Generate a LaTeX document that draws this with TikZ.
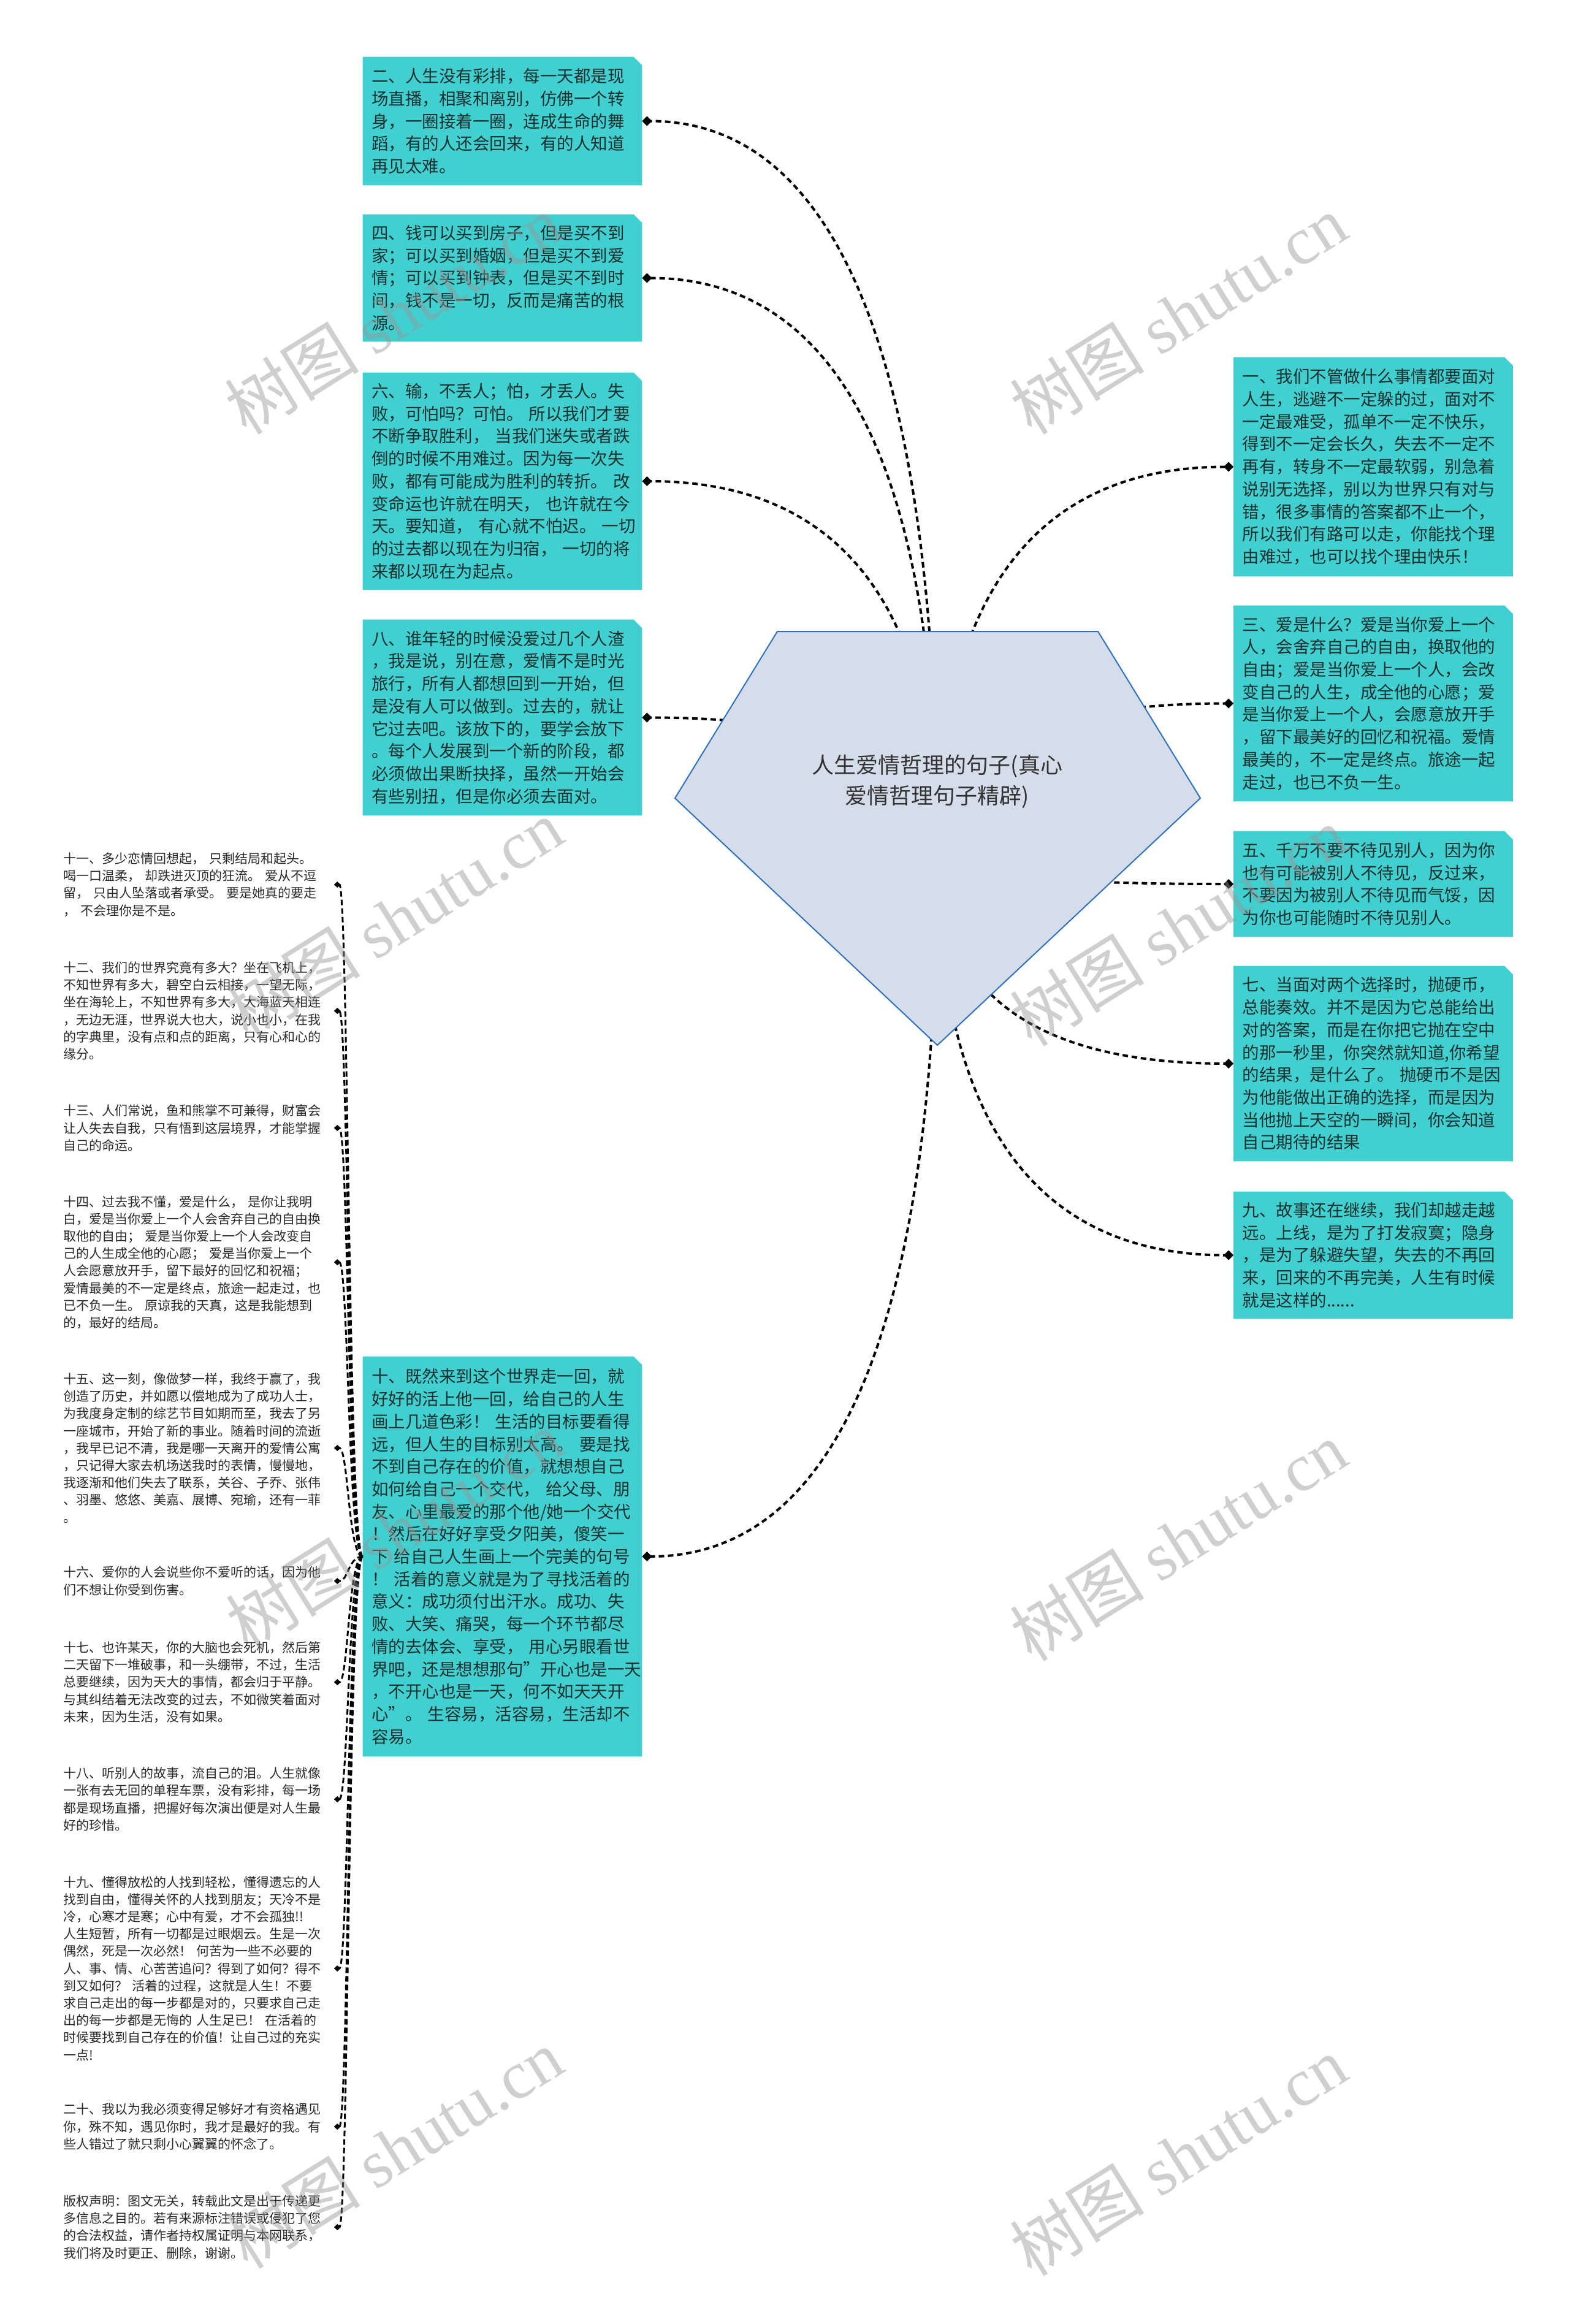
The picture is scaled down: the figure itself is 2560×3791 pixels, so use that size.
\documentclass[tikz,border=0pt]{standalone}
\usepackage{fontspec}
\setmainfont{Noto Sans CJK SC}
\newfontfamily\wmlatin{Liberation Serif}
\usetikzlibrary{calc,arrows.meta,backgrounds}
\definecolor{boxfill}{RGB}{66,207,208}
\definecolor{boxtext}{RGB}{28,48,48}
\definecolor{leaftext}{RGB}{40,40,40}
\definecolor{rootfill}{RGB}{212,221,233}
\definecolor{rootline}{RGB}{46,112,190}
\definecolor{wmgray}{RGB}{150,150,150}
\tikzset{
  tbox/.style={rectangle, inner xsep=7pt, inner ysep=0pt, minimum width=227.5pt,
    text width=213.5pt, align=left, text=boxtext,
    font=\fontsize{13.75pt}{18.35pt}\selectfont},
  leaf/.style={rectangle, inner sep=0pt, text width=220.5pt, align=left, anchor=west,
    text=leaftext, font=\fontsize{10.5pt}{14.1pt}\selectfont},
  conn/.style={line width=2pt, dash pattern=on 4.5pt off 3pt,
    -{Diamond[length=8pt,width=8pt]}},
  subconn/.style={line width=1.5pt, dash pattern=on 4.5pt off 2.5pt,
    -{Diamond[length=5.5pt,width=5pt]}},
  wm/.style={text=wmgray, opacity=0.45, font=\fontsize{55pt}{60pt}\selectfont, rotate=32},
  roottext/.style={text=black!80, align=center, font=\fontsize{18pt}{25pt}\selectfont}
}
\begin{document}
\begin{tikzpicture}[x=0.5pt,y=-0.5pt]
\useasboundingbox (0,0) rectangle (2560,3791);

% ---------- left boxes ----------
\node[tbox, minimum height=104.5pt] (b2) at (819.5,197.5) {二、人生没有彩排，每一天都是现\\场直播，相聚和离别，仿佛一个转\\身，一圈接着一圈，连成生命的舞\\蹈，有的人还会回来，有的人知道\\再见太难。};
\node[tbox, minimum height=103.5pt] (b4) at (819.5,453.5) {四、钱可以买到房子，但是买不到\\家；可以买到婚姻，但是买不到爱\\情；可以买到钟表，但是买不到时\\间，钱不是一切，反而是痛苦的根\\源。};
\node[tbox, minimum height=177pt] (b6) at (819.5,785) {六、输，不丢人；怕，才丢人。失\\败，可怕吗？可怕。~所以我们才要\\不断争取胜利，~当我们迷失或者跌\\倒的时候不用难过。因为每一次失\\败，都有可能成为胜利的转折。~改\\变命运也许就在明天，~也许就在今\\天。要知道，~有心就不怕迟。~一切\\的过去都以现在为归宿，~一切的将\\来都以现在为起点。};
\node[tbox, minimum height=159.5pt] (b8) at (819.5,1170.5) {八、谁年轻的时候没爱过几个人渣\\，我是说，别在意，爱情不是时光\\旅行，所有人都想回到一开始，但\\是没有人可以做到。过去的，就让\\它过去吧。该放下的，要学会放下\\。每个人发展到一个新的阶段，都\\必须做出果断抉择，虽然一开始会\\有些别扭，但是你必须去面对。};
\node[tbox, minimum height=326pt] (b10) at (819.5,2539) {十、既然来到这个世界走一回，就\\好好的活上他一回，给自己的人生\\画上几道色彩！~生活的目标要看得\\远，但人生的目标别太高。~要是找\\不到自己存在的价值，就想想自己\\如何给自己一个交代，~给父母、朋\\友、心里最爱的那个他/她一个交代\\！然后在好好享受夕阳美，傻笑一\\下~给自己人生画上一个完美的句号\\！~活着的意义就是为了寻找活着的\\意义：成功须付出汗水。成功、失\\败、大笑、痛哭，每一个环节都尽\\情的去体会、享受，~用心另眼看世\\界吧，还是想想那句"开心也是一天\\，不开心也是一天，何不如天天开\\心"。~生容易，活容易，生活却不\\容易。};

% ---------- right boxes ----------
\node[tbox, minimum height=178.5pt] (b1) at (2240,761.5) {一、我们不管做什么事情都要面对\\人生，逃避不一定躲的过，面对不\\一定最难受，孤单不一定不快乐，\\得到不一定会长久，失去不一定不\\再有，转身不一定最软弱，别急着\\说别无选择，别以为世界只有对与\\错，很多事情的答案都不止一个，\\所以我们有路可以走，你能找个理\\由难过，也可以找个理由快乐！};
\node[tbox, minimum height=159.5pt] (b3) at (2240,1147.5) {三、爱是什么？爱是当你爱上一个\\人，会舍弃自己的自由，换取他的\\自由；爱是当你爱上一个人，会改\\变自己的人生，成全他的心愿；爱\\是当你爱上一个人，会愿意放开手\\，留下最美好的回忆和祝福。爱情\\最美的，不一定是终点。旅途一起\\走过，也已不负一生。};
\node[tbox, minimum height=86pt] (b5) at (2240,1442) {五、千万不要不待见别人，因为你\\也有可能被别人不待见，反过来，\\不要因为被别人不待见而气馁，因\\为你也可能随时不待见别人。};
\node[tbox, minimum height=159pt] (b7) at (2240,1735) {七、当面对两个选择时，抛硬币，\\总能奏效。并不是因为它总能给出\\对的答案，而是在你把它抛在空中\\的那一秒里，你突然就知道,你希望\\的结果，是什么了。~抛硬币不是因\\为他能做出正确的选择，而是因为\\当他抛上天空的一瞬间，你会知道\\自己期待的结果};
\node[tbox, minimum height=103.5pt] (b9) at (2240,2047.5) {九、故事还在继续，我们却越走越\\远。上线，是为了打发寂寞；隐身\\，是为了躲避失望，失去的不再回\\来，回来的不再完美，人生有时候\\就是这样的......};

% ---------- left leaves ----------
\node[leaf] (c11) at (103,1443) {十一、多少恋情回想起，~只剩结局和起头。\\喝一口温柔，~却跌进灭顶的狂流。~爱从不逗\\留，~只由人坠落或者承受。~要是她真的要走\\，~不会理你是不是。};
\node[leaf] (c12) at (103,1649) {十二、我们的世界究竟有多大？坐在飞机上，\\不知世界有多大，碧空白云相接，一望无际，\\坐在海轮上，不知世界有多大，大海蓝天相连\\，无边无涯，世界说大也大，说小也小，在我\\的字典里，没有点和点的距离，只有心和心的\\缘分。};
\node[leaf] (c13) at (103,1840) {十三、人们常说，鱼和熊掌不可兼得，财富会\\让人失去自我，只有悟到这层境界，才能掌握\\自己的命运。};
\node[leaf] (c14) at (103,2059) {十四、过去我不懂，爱是什么，~是你让我明\\白，爱是当你爱上一个人会舍弃自己的自由换\\取他的自由；~爱是当你爱上一个人会改变自\\己的人生成全他的心愿；~爱是当你爱上一个\\人会愿意放开手，留下最好的回忆和祝福；\\爱情最美的不一定是终点，旅途一起走过，也\\已不负一生。~原谅我的天真，这是我能想到\\的，最好的结局。};
\node[leaf] (c15) at (103,2362) {十五、这一刻，像做梦一样，我终于赢了，我\\创造了历史，并如愿以偿地成为了成功人士，\\为我度身定制的综艺节目如期而至，我去了另\\一座城市，开始了新的事业。随着时间的流逝\\，我早已记不清，我是哪一天离开的爱情公寓\\，只记得大家去机场送我时的表情，慢慢地，\\我逐渐和他们失去了联系，关谷、子乔、张伟\\、羽墨、悠悠、美嘉、展博、宛瑜，还有一菲\\。};
\node[leaf] (c16) at (103,2579) {十六、爱你的人会说些你不爱听的话，因为他\\们不想让你受到伤害。};
\node[leaf] (c17) at (103,2744) {十七、也许某天，你的大脑也会死机，然后第\\二天留下一堆破事，和一头绷带，不过，生活\\总要继续，因为天大的事情，都会归于平静。\\与其纠结着无法改变的过去，不如微笑着面对\\未来，因为生活，没有如果。};
\node[leaf] (c18) at (103,2935) {十八、听别人的故事，流自己的泪。人生就像\\一张有去无回的单程车票，没有彩排，每一场\\都是现场直播，把握好每次演出便是对人生最\\好的珍惜。};
\node[leaf] (c19) at (103,3211) {十九、懂得放松的人找到轻松，懂得遗忘的人\\找到自由，懂得关怀的人找到朋友；天冷不是\\冷，心寒才是寒；心中有爱，才不会孤独!!\\人生短暂，所有一切都是过眼烟云。生是一次\\偶然，死是一次必然！~何苦为一些不必要的\\人、事、情、心苦苦追问？得到了如何？得不\\到又如何？~活着的过程，这就是人生！不要\\求自己走出的每一步都是对的，只要求自己走\\出的每一步都是无悔的~人生足已！~在活着的\\时候要找到自己存在的价值！让自己过的充实\\一点!};
\node[leaf] (c20) at (103,3469) {二十、我以为我必须变得足够好才有资格遇见\\你，殊不知，遇见你时，我才是最好的我。有\\些人错过了就只剩小心翼翼的怀念了。};
\node[leaf] (c21) at (103,3633) {版权声明：图文无关，转载此文是出于传递更\\多信息之目的。若有来源标注错误或侵犯了您\\的合法权益，请作者持权属证明与本网联系，\\我们将及时更正、删除，谢谢。};

% ---------- backgrounds ----------
\begin{pgfonlayer}{background}
\fill[white] (0,0) rectangle (2560,3791);
\foreach \n in {b1,b2,b3,b4,b5,b6,b7,b8,b9,b10}{
  \fill[boxfill] (\n.south west) -- (\n.north west) -- ([xshift=-7pt]\n.north east)
    -- ([yshift=-7pt]\n.north east) -- (\n.south east) -- cycle;
}
\end{pgfonlayer}

% ---------- connectors ----------
\coordinate (rc) at (1529,1390);
\foreach \a in {b2.east,b4.east,b6.east,b8.east,b10.east,b1.west,b3.west,b5.west,b7.west,b9.west}{
  \draw[conn] (rc) .. controls ($(rc)!2/3!(rc|-\a)$) and ($(\a)!2/3!(rc|-\a)$) .. (\a);
}
\foreach \lf in {c11,c12,c13,c14,c15,c16,c17,c18,c19,c20,c21}{
  \draw[subconn] (b10.west) .. controls ($(b10.west)!0.5!(b10.west-|\lf.east)$)
    and ($(\lf.east)!0.5!(\lf.east-|b10.west)$) .. (\lf.east);
}

% ---------- root ----------
\draw[draw=rootline, fill=rootfill, line width=1pt]
  (1268,1030) -- (1791,1030) -- (1958,1302) -- (1529,1705) -- (1101,1302) -- cycle;
\node[roottext] (root) at (1529,1275) {人生爱情哲理的句子(真心\\爱情哲理句子精辟)};

% ---------- watermarks ----------
\node[wm] (wm1) at (641,513) {树图 {\wmlatin shutu.cn}};
\node[wm] (wm2) at (1922,513) {树图 {\wmlatin shutu.cn}};
\node[wm] (wm3) at (643,1499) {树图 {\wmlatin shutu.cn}};
\node[wm] (wm4) at (1922,1511) {树图 {\wmlatin shutu.cn}};
\node[wm] (wm5) at (643,2496) {树图 {\wmlatin shutu.cn}};
\node[wm] (wm6) at (1922,2514) {树图 {\wmlatin shutu.cn}};
\node[wm] (wm7) at (643,3505) {树图 {\wmlatin shutu.cn}};
\node[wm] (wm8) at (1922,3517) {树图 {\wmlatin shutu.cn}};
\end{tikzpicture}
\end{document}
